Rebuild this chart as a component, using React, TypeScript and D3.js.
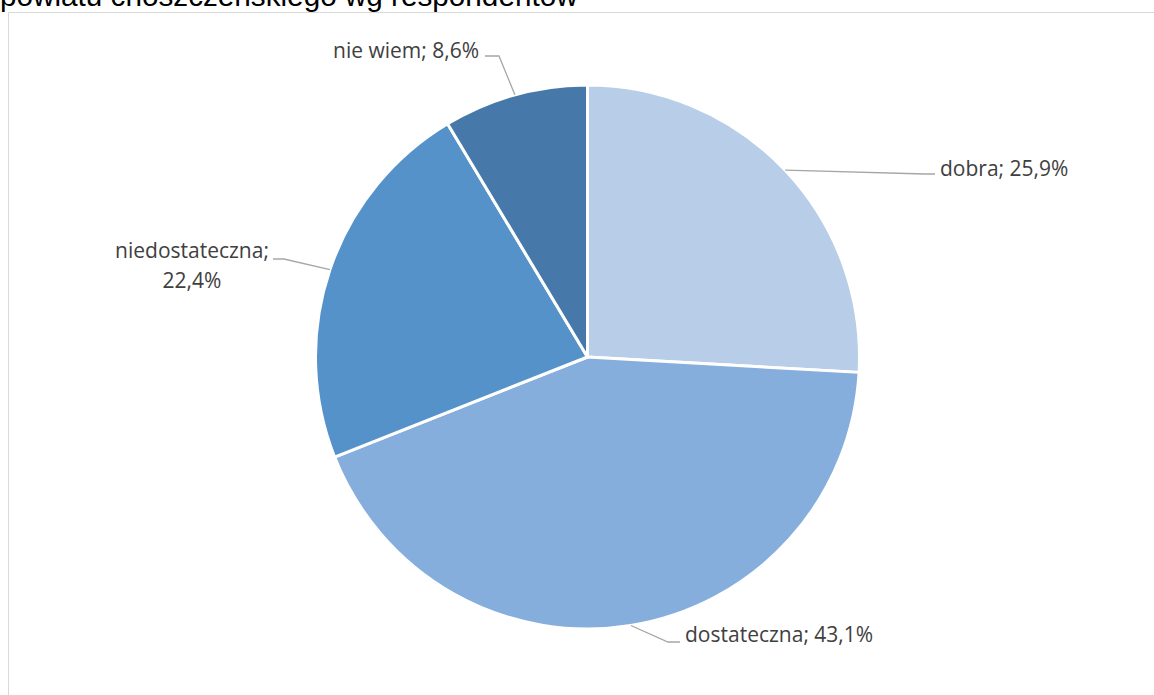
import React from "react";
import * as d3 from "d3";

const categories = ["dobra", "dostateczna", "niedostateczna", "nie wiem"];
const values = [25.9, 43.1, 22.4, 8.6];
const valueLabels = ["25,9%", "43,1%", "22,4%", "8,6%"];
const titleText = "powiatu choszczeńskiego wg respondentów";

// layout / style (not data)
const colors = ["#B8CDE8", "#85AEDC", "#5592C9", "#4679A9"];
const W = 1154;
const H = 695;
const cx = 587.5;
const cy = 357;
const R = 272;
// label layouts: elbow point, line end, text anchor
const labelLayout = [
  { elbow: [925, 174], end: [935, 174], tx: 940, ty: 176, anchor: "start", lines: 1 },
  { elbow: [668, 642], end: [680, 642], tx: 685, ty: 642, anchor: "start", lines: 1 },
  { elbow: [284, 259], end: [273, 259], tx: 192, ty: 258, anchor: "middle", lines: 2 },
  { elbow: [499, 56], end: [485, 56], tx: 333, ty: 58, anchor: "start", lines: 1 },
];

export default function App() {
  const pie = d3
    .pie<number>()
    .sort(null)
    .value((d) => d)
    .startAngle(0)
    .endAngle(2 * Math.PI);
  const arcs = pie(values);
  const arcGen = d3.arc<d3.PieArcDatum<number>>().innerRadius(0).outerRadius(R);

  return (
    <svg
      width={W}
      height={H}
      style={{ position: "absolute", left: 0, top: 0, background: "#fff" }}
    >
      <rect x={0} y={0} width={W} height={H} fill="#fff" />
      <text
        x={0}
        y={5.5}
        fontFamily="'Liberation Sans', Arial, sans-serif"
        fontSize={29.7}
        fill="#000"
      >
        {titleText}
      </text>
      <path d={`M8.5,${H} L8.5,12.5 L${W},12.5`} fill="none" stroke="#D9D9D9" strokeWidth={1} />
      <g transform={`translate(${cx},${cy})`}>
        {arcs.map((a, i) => (
          <path key={i} d={arcGen(a) || ""} fill={colors[i]} stroke="#fff" strokeWidth={3} strokeLinejoin="round" />
        ))}
      </g>
      {arcs.map((a, i) => {
        const mid = (a.startAngle + a.endAngle) / 2;
        const sx = cx + R * Math.sin(mid);
        const sy = cy - R * Math.cos(mid);
        const L = labelLayout[i];
        return (
          <polyline
            key={"l" + i}
            points={`${sx},${sy} ${L.elbow[0]},${L.elbow[1]} ${L.end[0]},${L.end[1]}`}
            fill="none"
            stroke="#A6A6A6"
            strokeWidth={1.3}
          />
        );
      })}
      {categories.map((c, i) => {
        const L = labelLayout[i];
        const common = {
          fontFamily: "'Open Sans', sans-serif",
          fontSize: 21,
          fill: "#404040",
          textAnchor: L.anchor as any,
        };
        if (L.lines === 2) {
          return (
            <text key={"t" + i} x={L.tx} y={L.ty} {...common}>
              <tspan x={L.tx}>{c};</tspan>
              <tspan x={L.tx} dy={30}>{valueLabels[i]}</tspan>
            </text>
          );
        }
        return (
          <text key={"t" + i} x={L.tx} y={L.ty} {...common}>
            {c}; {valueLabels[i]}
          </text>
        );
      })}
    </svg>
  );
}
